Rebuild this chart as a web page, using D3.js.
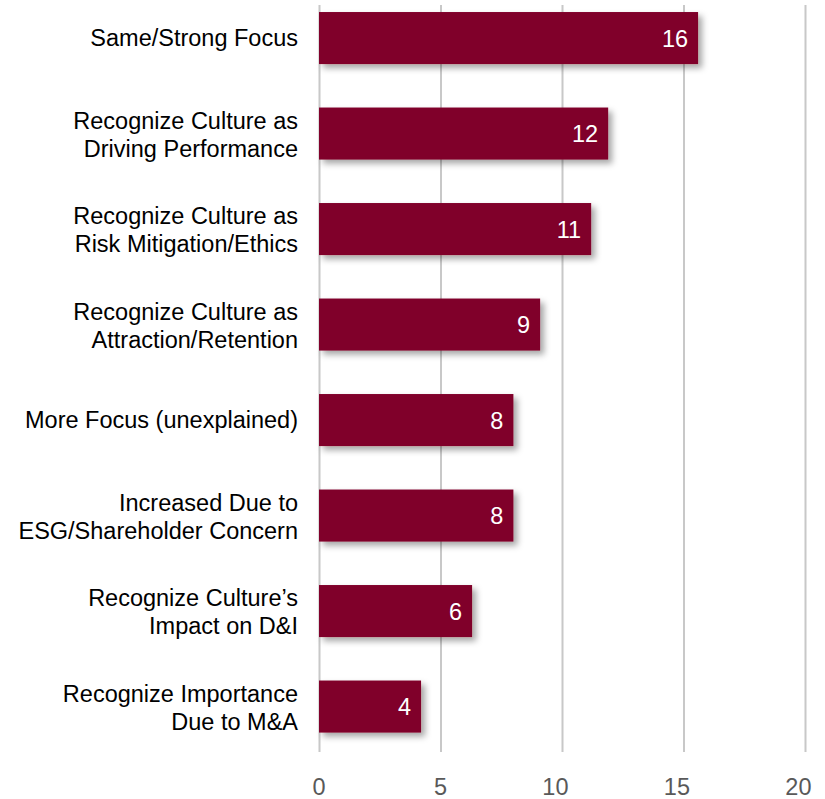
<!DOCTYPE html>
<html>
<head>
<meta charset="utf-8">
<script src="https://cdn.jsdelivr.net/npm/d3@7"></script>
<style>
  body { margin: 0; background: #fff; }
  text { font-family: "Liberation Sans", Arial, sans-serif; }
</style>
</head>
<body>
<div id="chart"></div>
<script>
const categories = [
  'Same/Strong Focus',
  'Recognize Culture as\nDriving Performance',
  'Recognize Culture as\nRisk Mitigation/Ethics',
  'Recognize Culture as\nAttraction/Retention',
  'More Focus (unexplained)',
  'Increased Due to\nESG/Shareholder Concern',
  'Recognize Culture\u2019s\nImpact on D&I',
  'Recognize Importance\nDue to M&A'
];
const values = [15.6, 11.9, 11.2, 9.1, 8.0, 8.0, 6.3, 4.2];
const valueLabels = ['16', '12', '11', '9', '8', '8', '6', '4'];
const xTicks = [0, 5, 10, 15, 20];

const width = 825, height = 799;
const margin = { left: 319, right: 20, top: 5, bottom: 47 };

const svg = d3.select('#chart')
  .append('svg')
  .attr('width', width)
  .attr('height', height);

// soft shadow under the bars
const defs = svg.append('defs');
defs.append('filter')
  .attr('id', 'shadow')
  .attr('x', '-10%').attr('y', '-20%')
  .attr('width', '130%').attr('height', '160%')
  .append('feDropShadow')
  .attr('dx', 4).attr('dy', 4)
  .attr('stdDeviation', 3)
  .attr('flood-color', '#000')
  .attr('flood-opacity', 0.35);

const x = d3.scaleLinear()
  .domain([0, 20])
  .range([margin.left, width - margin.right]);

const y = d3.scaleBand()
  .domain(categories)
  .range([-9.7, 754.3])
  .paddingInner(0.455)
  .paddingOuter(0.2275);

const gridBottom = height - margin.bottom;

// gridlines + tick labels
const xAxis = svg.append('g')
  .attr('transform', `translate(0,${gridBottom})`)
  .call(d3.axisBottom(x)
    .tickValues(xTicks)
    .tickSize(-(gridBottom - margin.top))
    .tickPadding(26));

xAxis.select('.domain').remove();
xAxis.selectAll('.tick line')
  .attr('stroke', '#c8c8c8')
  .attr('stroke-width', 2);
xAxis.selectAll('.tick text')
  .attr('fill', '#595959')
  .attr('text-anchor', 'end')
  .attr('dx', 6)
  .style('font-size', '23.5px')
  .style('font-family', '"Liberation Sans", Arial, sans-serif');

// bars
svg.append('g')
  .selectAll('rect')
  .data(values)
  .join('rect')
  .attr('x', x(0))
  .attr('y', (d, i) => y(categories[i]))
  .attr('width', d => x(d) - x(0))
  .attr('height', y.bandwidth())
  .attr('fill', '#80002a')
  .attr('filter', 'url(#shadow)');

// value labels inside bars
svg.append('g')
  .selectAll('text')
  .data(values)
  .join('text')
  .attr('x', d => x(d) - 10)
  .attr('y', (d, i) => y(categories[i]) + y.bandwidth() / 2)
  .attr('dy', '0.36em')
  .attr('text-anchor', 'end')
  .attr('fill', '#fff')
  .style('font-size', '23.5px')
  .text((d, i) => valueLabels[i]);

// category labels
const catLabels = svg.append('g')
  .selectAll('text')
  .data(categories)
  .join('text')
  .attr('x', x(0) - 21)
  .attr('y', d => y(d) + y.bandwidth() / 2)
  .attr('text-anchor', 'end')
  .attr('fill', '#000')
  .style('font-size', '23.5px');

catLabels.each(function (d) {
  const lines = d.split('\n');
  const t = d3.select(this);
  lines.forEach((line, j) => {
    t.append('tspan')
      .attr('x', x(0) - 21)
      .attr('dy', j === 0 ? (8 - (lines.length - 1) * 13) + 'px' : '28px')
      .text(line);
  });
});
</script>
</body>
</html>
